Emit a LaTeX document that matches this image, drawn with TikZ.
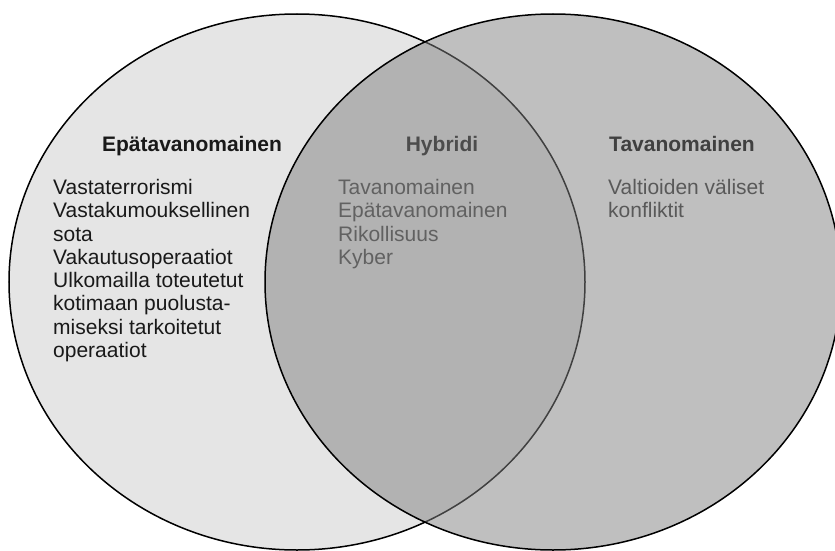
\documentclass[tikz,border=0pt]{standalone}
\usepackage{fontspec}
\setmainfont{Liberation Sans}
\usepackage{tikz}

\definecolor{leftfill}{gray}{0.9}
\definecolor{rightfill}{gray}{0.5}

\begin{document}
\begin{tikzpicture}[scale=0.3514,
  head/.style={anchor=base,font=\fontsize{21}{23.3}\selectfont\bfseries},
  body/.style={anchor=north west,align=left,font=\fontsize{21}{23.3}\selectfont}]
\tikzstyle{every node}+=[inner sep=0pt]
\useasboundingbox (0,0) rectangle (83.5,-55.1);
\clip (0,0) rectangle (83.5,-55.1);
\draw [black, line width=1.5pt, fill=leftfill] (29.7,-28.2) ellipse (28.8 and 26.8);
\draw [black, line width=1.5pt, fill=rightfill, fill opacity=0.5] (55.3,-28.2) ellipse (28.8 and 26.8);
\node [head, text=black!90] (epa) at (19.2,-15.1) {Epätavanomainen};
\node [head, text=black!70] (hyb) at (44.2,-15.1) {Hybridi};
\node [head, text=black!75] (tav) at (68.2,-15.1) {Tavanomainen};
\node [body, text=black!90] (epalist) at (5.3,-17.9) {Vastaterrorismi\\Vastakumouksellinen\\sota\\Vakautusoperaatiot\\Ulkomailla toteutetut\\kotimaan puolusta-\\miseksi tarkoitetut\\operaatiot};
\node [body, text=black!62] (hyblist) at (33.8,-17.9) {Tavanomainen\\Epätavanomainen\\Rikollisuus\\Kyber};
\node [body, text=black!65] (tavlist) at (60.8,-17.9) {Valtioiden väliset\\konfliktit};
\end{tikzpicture}
\end{document}
